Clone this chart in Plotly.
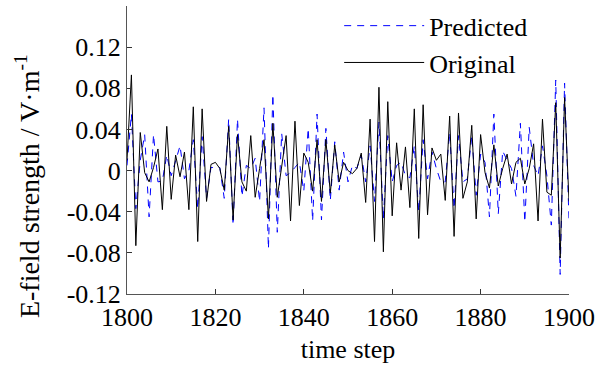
import plotly.graph_objects as go

time_step = list(range(1800, 1901))

original = [
    0.010, 0.093, -0.073, 0.037, -0.002, -0.011, 0.003, 0.021, -0.038, 0.043,
    -0.028, 0.015, -0.006, 0.018, -0.038, 0.062, -0.069, 0.060, -0.030, 0.006,
    0.008, 0.002, -0.019, 0.043, -0.048, 0.035, -0.011, -0.020, 0.034, -0.026,
    0.002, 0.030, -0.047, 0.046, -0.026, 0.002, 0.034, -0.049, 0.048, -0.034,
    0.017, 0.008, -0.020, 0.030, -0.030, 0.030, -0.022, 0.025, -0.011, 0.008,
    0.000, -0.003, 0.002, 0.017, -0.031, 0.050, -0.069, 0.081, -0.079, 0.067,
    -0.044, 0.027, -0.019, 0.023, -0.036, 0.060, -0.066, 0.064, -0.043, 0.022,
    0.010, 0.016, -0.029, 0.053, -0.064, 0.056, -0.027, -0.011, 0.044, -0.047,
    0.035, -0.002, -0.017, 0.025, -0.015, 0.002, 0.016, -0.013, 0.008, 0.012,
    -0.013, 0.002, 0.026, -0.049, 0.050, -0.021, -0.024, 0.066, -0.085, 0.071,
    -0.030,
]

predicted = [
    0.005, 0.055, -0.037, 0.010, 0.035, -0.045, 0.035, -0.011, -0.010, 0.015,
    -0.005, 0.010, 0.024, -0.008, 0.000, 0.030, -0.037, 0.033, -0.027, 0.003,
    0.003, 0.003, -0.027, 0.050, -0.053, 0.050, -0.025, 0.005, 0.002, 0.012,
    -0.030, 0.061, -0.076, 0.074, -0.060, 0.036, -0.005, -0.002, 0.003, 0.008,
    -0.020, 0.041, -0.049, 0.055, -0.048, 0.041, -0.029, 0.028, -0.019, 0.018,
    -0.011, 0.005, 0.002, 0.015, -0.011, 0.024, -0.030, 0.047, -0.047, 0.034,
    -0.011, 0.005, 0.008, -0.005, -0.007, 0.024, -0.040, 0.030, -0.008, 0.018,
    0.002, -0.011, -0.011, 0.037, -0.037, 0.034, -0.011, -0.008, 0.034, -0.024,
    0.016, 0.008, -0.045, 0.055, -0.042, 0.019, 0.010, 0.002, -0.025, 0.046,
    -0.050, 0.042, 0.005, -0.005, 0.024, -0.005, -0.053, 0.088, -0.101, 0.085,
    -0.048,
]

y_tick_vals = [-0.12, -0.08, -0.04, 0, 0.04, 0.08, 0.12]
y_tick_text = ["-0.12", "-0.08", "-0.04", "0", "0.04", "0.08", "0.12"]
x_tick_vals = [1800, 1820, 1840, 1860, 1880, 1900]

FONT = "Liberation Serif, Times New Roman, serif"

fig = go.Figure()
fig.add_trace(go.Scatter(
    x=time_step, y=predicted, mode="lines", name="Predicted",
    line=dict(color="#0000ff", width=1, dash="7px,6px"),
))
fig.add_trace(go.Scatter(
    x=time_step, y=original, mode="lines", name="Original",
    line=dict(color="#000000", width=1),
))

fig.update_layout(
    width=600, height=369,
    margin=dict(l=127, r=31, t=6, b=75, autoexpand=False),
    paper_bgcolor="white", plot_bgcolor="white",
    font=dict(family=FONT, size=26, color="black"),
    showlegend=True,
    legend=dict(
        x=0.48, y=1.013, xanchor="left", yanchor="top",
        bgcolor="rgba(0,0,0,0)", borderwidth=0,
        font=dict(family=FONT, size=26, color="black"),
        itemwidth=80,
    ),
    xaxis=dict(
        range=[1800, 1900], tickvals=x_tick_vals,
        ticks="inside", ticklen=5, tickcolor="#333",
        showline=True, linecolor="#555", linewidth=1,
        showgrid=False, zeroline=False, mirror=False,
        title=dict(text="time step", font=dict(size=26), standoff=8),
        tickfont=dict(size=26),
    ),
    yaxis=dict(
        range=[-0.12, 0.16], tickvals=y_tick_vals, ticktext=y_tick_text,
        ticks="inside", ticklen=5, tickcolor="#333",
        showline=True, linecolor="#555", linewidth=1,
        showgrid=False, zeroline=False, mirror=False,
        tickfont=dict(size=26),
    ),
    annotations=[dict(
        text="E-field strength / V·m<sup>-1</sup>",
        xref="paper", yref="paper", x=-0.226, y=0.375,
        xanchor="center", yanchor="middle", textangle=-90,
        showarrow=False, font=dict(family=FONT, size=28, color="black"),
    )],
)

fig.write_html("out.html")
